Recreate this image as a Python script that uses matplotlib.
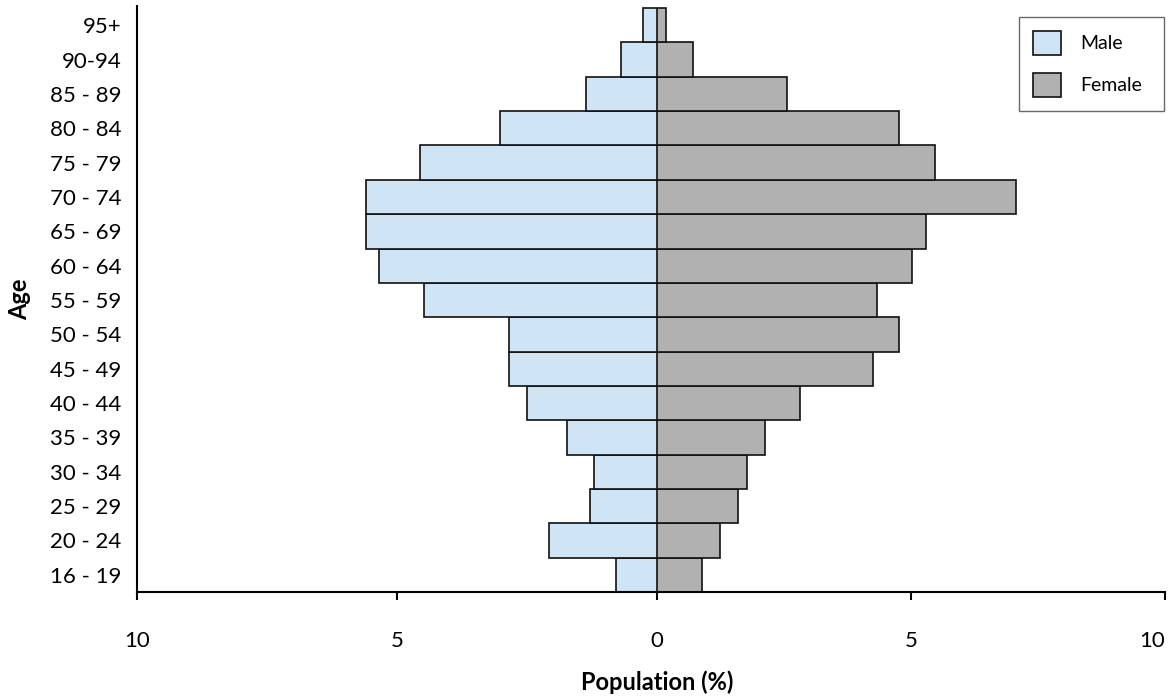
import matplotlib
matplotlib.use("Agg")
import matplotlib.pyplot as plt
import numpy as np

age_groups = ["16 - 19", "20 - 24", "25 - 29", "30 - 34", "35 - 39", "40 - 44",
              "45 - 49", "50 - 54", "55 - 59", "60 - 64", "65 - 69", "70 - 74",
              "75 - 79", "80 - 84", "85 - 89", "90-94", "95+"]
male = [0.79, 2.08, 1.29, 1.21, 1.73, 2.50, 2.85, 2.85, 4.48, 5.35, 5.60, 5.60,
        4.56, 3.02, 1.37, 0.69, 0.27]
female = [0.89, 1.24, 1.59, 1.77, 2.13, 2.81, 4.25, 4.76, 4.33, 5.02, 5.30, 7.07,
          5.47, 4.76, 2.56, 0.71, 0.18]
male_ticks = [-10, -5, 0]
male_tick_labels = ["10", "5", "0"]
female_ticks = [5, 10]
female_tick_labels = ["5", "10"]

plt.rcParams['font.family'] = ['Lato', 'DejaVu Sans']

W, H = 1172, 700
fig = plt.figure(figsize=(W / 100, H / 100), dpi=100)
x0, xm, x1 = 137, 657, 1165
ybot, ytop = 592, 6
axL = fig.add_axes([x0 / W, (H - ybot) / H, (xm - x0) / W, (ybot - ytop) / H])
axR = fig.add_axes([xm / W, (H - ybot) / H, (x1 - xm) / W, (ybot - ytop) / H])

y = np.arange(len(age_groups))
ylim = (-0.5, len(age_groups) - 0.5 + 0.06)

hm = axL.barh(y, -np.array(male), height=1.0, color="#cfe5f5", edgecolor="#111111",
              linewidth=1.2, label="Male")
hf = axR.barh(y, female, height=1.0, color="#b1b1b2", edgecolor="#111111",
              linewidth=1.2, label="Female")

axL.set_xlim(-10, 0)
axR.set_xlim(0, 10)
for a in (axL, axR):
    a.set_ylim(*ylim)
    a.patch.set_alpha(0)
    for s in ["top", "right"]:
        a.spines[s].set_visible(False)
    a.spines["bottom"].set_linewidth(1.5)
    a.tick_params(axis="x", direction="out", length=6, width=1.5, pad=22, labelsize=16)

axL.set_xticks(male_ticks)
axL.set_xticklabels(male_tick_labels)
axR.set_xticks(female_ticks)
axR.set_xticklabels(female_tick_labels)
axR.get_xticklabels()[-1].set_horizontalalignment("right")

axL.spines["left"].set_linewidth(1.5)
axR.spines["left"].set_visible(False)
axL.set_yticks(y)
axL.set_yticklabels(age_groups)
axL.tick_params(axis="y", length=0, pad=11, labelsize=16)
axR.set_yticks([])

fig.text(xm / W, (H - 682) / H, "Population (%)", fontsize=17, fontweight="bold",
         ha="center", va="center")
axL.set_ylabel("Age", fontsize=17, fontweight="bold", labelpad=14)

leg = fig.legend([hm, hf], ["Male", "Female"], loc="upper left",
                 bbox_to_anchor=(1019 / W, (H - 111) / H, 145 / W, 94 / H),
                 bbox_transform=fig.transFigure, mode="expand", fontsize=14,
                 frameon=True, fancybox=False, edgecolor="#444444",
                 handlelength=1.44, handleheight=1.5, borderpad=0.72,
                 labelspacing=0.95, handletextpad=0.98, borderaxespad=0.0)
leg.get_frame().set_linewidth(1.0)

fig.savefig("out.png", dpi=100)
